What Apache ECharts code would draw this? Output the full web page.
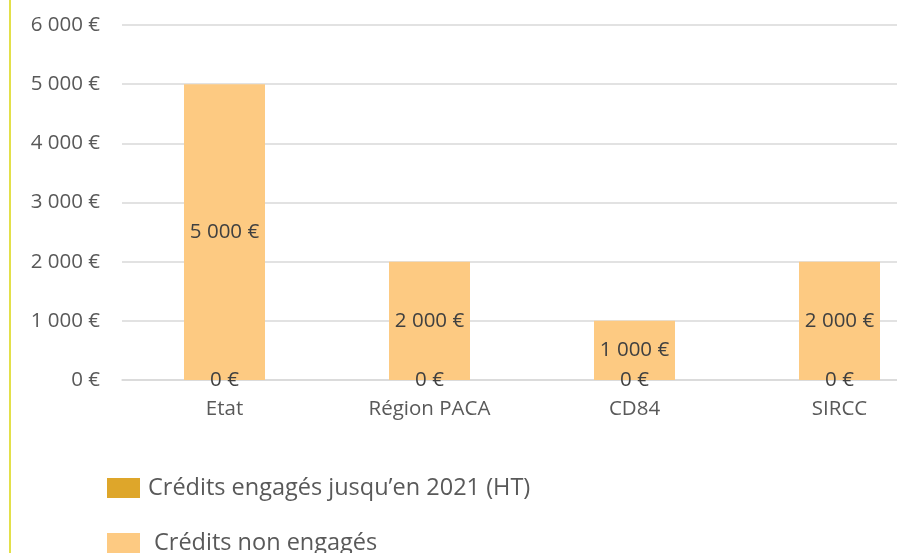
<!DOCTYPE html>
<html><head><meta charset="utf-8">
<script src="https://cdn.jsdelivr.net/npm/echarts@6/dist/echarts.min.js"></script>
<style>html,body{margin:0;padding:0;background:#fff;overflow:hidden;width:897px;height:553px}#c{width:942px;height:553px}</style>
</head><body><div id="c"></div>
<script>
const categories = ['Etat', 'Région PACA', 'CD84', 'SIRCC'];
const engages = [0, 0, 0, 0];
const nonEngages = [5000, 2000, 1000, 2000];
const seriesNames = ['Crédits engagés jusqu\u2019en 2021 (HT)', 'Crédits non engagés'];

function fmt(v) {
  return String(Math.round(v)).replace(/\B(?=(\d{3})+(?!\d))/g, ' ') + ' €';
}
const chart = echarts.init(document.getElementById('c'), null, {renderer: 'canvas'});
const font = '"Open Sans", "Noto Sans", sans-serif';
const legendText = {fontFamily: font, fontSize: 23.5, color: '#595959'};
chart.setOption({
  animation: false,
  backgroundColor: '#fff',
  grid: {left: 122, right: 0, top: 25, bottom: 173, containLabel: false},
  legend: [
    {left: 102, top: 471, itemWidth: 33, itemHeight: 20, icon: 'rect', itemGap: 10,
     textStyle: Object.assign({}, legendText, {padding: [0, 0, 0, 3]}), data: [seriesNames[0]]},
    {left: 102, top: 526, itemWidth: 33, itemHeight: 20, icon: 'rect', itemGap: 10,
     textStyle: Object.assign({}, legendText, {padding: [0, 0, 0, 9]}), data: [seriesNames[1]]}
  ],
  xAxis: {
    type: 'category', data: categories,
    axisLine: {lineStyle: {color: '#d9d9d9', width: 1.5}},
    axisTick: {show: false},
    axisLabel: {fontFamily: font, fontSize: 20.5, color: '#595959', margin: 19}
  },
  yAxis: {
    type: 'value', min: 0, max: 6000, interval: 1000,
    axisLine: {show: false}, axisTick: {show: false},
    splitLine: {lineStyle: {color: '#d9d9d9', width: 1.5}},
    axisLabel: {fontFamily: font, fontSize: 20.5, color: '#595959', margin: 22, formatter: fmt}
  },
  series: [
    {
      name: seriesNames[0], type: 'bar', stack: 'a', data: engages, barWidth: 81,
      itemStyle: {color: '#DEA62A'},
      label: {show: true, position: 'inside', formatter: p => fmt(p.value), fontFamily: font, fontSize: 20.5, color: '#404040'},
      z: 3
    },
    {
      name: seriesNames[1], type: 'bar', stack: 'a', data: nonEngages, barWidth: 81,
      itemStyle: {color: '#FDCA82'},
      label: {show: true, position: 'inside', formatter: p => fmt(p.value), fontFamily: font, fontSize: 20.5, color: '#404040'},
      z: 2
    }
  ],
  graphic: [{
    type: 'rect', shape: {x: 9, y: 0, width: 2, height: 553}, style: {fill: '#E3E04A'}
  }]
});
</script></body></html>
